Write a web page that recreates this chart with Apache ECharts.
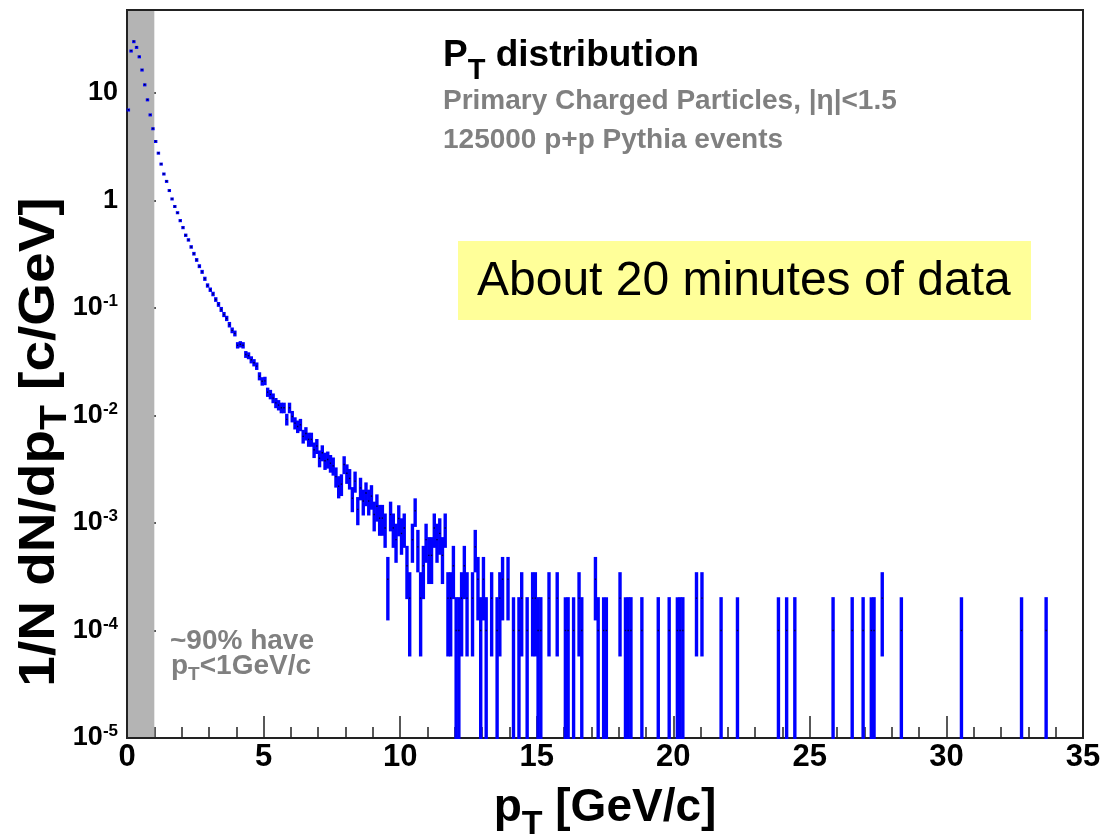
<!DOCTYPE html>
<html>
<head>
<meta charset="utf-8">
<script src="https://cdn.jsdelivr.net/npm/echarts@6/dist/echarts.min.js"></script>
<style>
html,body{margin:0;padding:0;background:#fff;}
#chart{width:1104px;height:839px;}
</style>
</head>
<body>
<div id="chart"></div>
<script>
// ---- data ----
// bin centres (GeV/c) of non-empty bins
const ptBins = [
 0.05,0.15,0.25,0.35,0.45,0.55,0.65,0.75,0.85,0.95,
 1.05,1.15,1.25,1.35,1.45,1.55,1.65,1.75,1.85,1.95,
 2.05,2.15,2.25,2.35,2.45,2.55,2.65,2.75,2.85,2.95,
 3.05,3.15,3.25,3.35,3.45,3.55,3.65,3.75,3.85,3.95,
 4.05,4.15,4.25,4.35,4.45,4.55,4.65,4.75,4.85,4.95,
 5.05,5.15,5.25,5.35,5.45,5.55,5.65,5.75,5.85,5.95,
 6.05,6.15,6.25,6.35,6.45,6.55,6.65,6.75,6.85,6.95,
 7.05,7.15,7.25,7.35,7.45,7.55,7.65,7.75,7.85,7.95,
 8.05,8.15,8.25,8.35,8.45,8.55,8.65,8.75,8.85,8.95,
 9.05,9.15,9.25,9.35,9.45,9.55,9.65,9.75,9.85,9.95,
 10.05,10.15,10.25,10.35,10.45,10.55,10.65,10.75,10.85,10.95,
 11.05,11.15,11.25,11.35,11.45,11.55,11.65,11.75,11.85,11.95,
 12.05,12.15,12.25,12.35,12.45,12.65,12.75,12.85,12.95,
 13.05,13.15,13.35,13.55,13.65,13.75,13.95,
 14.15,14.35,14.45,14.65,14.85,14.95,
 15.05,15.15,15.45,15.75,
 16.05,16.15,16.35,16.55,16.65,
 17.15,17.25,17.45,17.55,
 18.05,18.25,18.35,18.45,18.85,
 19.45,19.85,
 20.15,20.25,20.35,20.85,
 21.05,21.75,22.35,23.85,24.15,24.45,25.85,26.55,26.95,
 27.25,27.35,27.65,28.35,30.55,32.75,33.65
];
// 1/N dN/dpT  [c/GeV]
const dNdpT = [
 7.0,24.8,30.3,26.8,21.9,16.5,12.0,8.7,6.3,4.68,
 3.56,2.77,2.19,1.77,1.51,1.24,1.035,0.88,0.77,0.65,
 0.56,0.475,0.43,0.37,0.32,0.28,0.245,0.217,0.187,0.162,
 0.148,0.135,0.12,0.108,0.097,0.087,0.080,0.070,0.062,0.058,
 0.045,0.046,0.045,0.037,0.036,0.033,0.031,0.0288,0.0232,0.0208,
 0.021,0.0165,0.0157,0.0145,0.0131,0.0125,0.0118,0.0118,0.0092,0.0118,
 0.0098,0.0085,0.0079,0.0082,0.0064,0.0068,0.0060,0.0060,0.0048,0.0052,
 0.0040,0.0045,0.0038,0.0039,0.0036,0.0034,0.0027,0.0022,0.0023,0.0035,
 0.0029,0.0026,0.0017,0.00245,0.00134,0.00212,0.0016,0.0019,0.0016,0.00178,
 0.0012,0.00143,0.00111,0.00111,0.0009,0.0003,0.0012,0.0009,0.0007,0.0011,
 0.0008,0.0009,0.0004,0.0002,0.0007,0.0013,0.0006,0.0002,0.0004,0.0007,
 0.0005,0.0005,0.0009,0.0007,0.0008,0.0005,0.0009,0.0002,0.0002,0.0004,
 0.0001,0.0001,0.0002,0.0004,0.0002,0.0002,0.0006,0.0003,0.0001,
 0.0003,0.0001,0.0002,0.0001,0.0002,0.0003,0.0003,
 0.0001,0.0001,0.0002,0.0001,0.0002,0.0002,
 0.0001,0.0001,0.0002,0.0002,
 0.0001,0.0001,0.0001,0.0002,0.0001,
 0.0003,0.0001,0.0001,0.0001,
 0.0002,0.0001,0.0001,0.0001,0.0001,
 0.0001,0.0001,
 0.0001,0.0001,0.0001,0.0002,
 0.0002,0.0001,0.0001,0.0001,0.0001,0.0001,0.0001,0.0001,0.0001,
 0.0001,0.0001,0.0002,0.0001,0.0001,0.0001,0.0001
];
const perEntry = 1e-4;          // value of a single entry in a bin
const xTicks = [0, 5, 10, 15, 20, 25, 30, 35];
const yMin = 1e-5, yMax = 59.2;
const lowPtBand = [0, 1];       // shaded pT < 1 GeV/c region
const titleText = 'distribution';
const subtitle1 = 'Primary Charged Particles, |\u03b7|<1.5';
const subtitle2 = '125000 p+p Pythia events';
const boxText = 'About 20 minutes of data';

const FF = '"Liberation Sans", Arial, Helvetica, sans-serif';
const chart = echarts.init(document.getElementById('chart'), null, {renderer: 'canvas'});

// rich-text styles for a main run + lowered subscript run
function subRich(fm, fs, drop, color, key) {
  const L = 2 * (drop + 0.1535 * fs + 0.3465 * fm);
  const m = {fontFamily: FF, fontWeight: 'bold', fontSize: fm, lineHeight: L};
  const s = {fontFamily: FF, fontWeight: 'bold', fontSize: fs, lineHeight: fs, verticalAlign: 'bottom'};
  m[key] = color; s[key] = color;
  return {m: m, s: s};
}

function yLabel(v) {
  const e = Math.log10(v);
  const r = Math.round(e);
  if (Math.abs(e - r) > 1e-6) return '';
  if (r === 0) return '{b|1}';
  if (r === 1) return '{b|10}';
  return '{b|10}{sup|' + r + '}';
}

function histItem(params, api) {
  const x = api.value(0), v = api.value(1);
  const n = v / perEntry;
  const e = Math.sqrt(n) * perEntry;
  const hi = v + e;
  const lo = Math.max(v - e, yMin);
  const pc = api.coord([x, v]);
  const ph = api.coord([x, hi]);
  const pl = api.coord([x, lo]);
  const w = 3.4;
  const top = ph[1] - 1;
  const h = Math.max(pl[1] - ph[1] + 2, 3);
  return {
    type: 'group',
    children: [
      {type: 'rect', shape: {x: pc[0] - w / 2, y: top, width: w, height: h}, style: {fill: '#0000ff'}},
      {type: 'rect', shape: {x: pc[0] - 0.7, y: pc[1] - 0.7, width: 1.4, height: 1.4}, style: {fill: '#000033'}}
    ]
  };
}

function bandItem(params, api) {
  const a = api.coord([lowPtBand[0], yMax]);
  const b = api.coord([lowPtBand[1], yMin]);
  return {type: 'rect', shape: {x: a[0] + 1, y: a[1] + 1, width: b[0] - a[0] - 1, height: b[1] - a[1] - 2}, style: {fill: '#b4b4b4'}};
}

const axisColor = '#222';
const option = {
  animation: false,
  backgroundColor: '#fff',
  grid: {left: 127, top: 10, width: 956, height: 728, show: true, borderColor: axisColor, borderWidth: 2,
         backgroundColor: 'transparent', containLabel: false, outerBoundsMode: 'none'},
  xAxis: {
    type: 'value', min: xTicks[0], max: xTicks[xTicks.length - 1], interval: 5,
    axisLine: {lineStyle: {color: axisColor, width: 2}},
    axisTick: {inside: true, length: 22, lineStyle: {color: axisColor, width: 1.5}},
    minorTick: {show: true, splitNumber: 5, length: 11, lineStyle: {color: axisColor, width: 1.5}},
    splitLine: {show: false},
    axisLabel: {fontFamily: FF, fontWeight: 'bold', fontSize: 31, color: '#000', margin: 4},
    name: '{m|p}{s|T}{m| [GeV/c]}',
    nameLocation: 'middle', nameGap: 37,
    nameTextStyle: {rich: subRich(46, 34, 12, '#000', 'color')}
  },
  yAxis: {
    type: 'log', logBase: 10, min: yMin, max: yMax,
    axisLine: {lineStyle: {color: axisColor, width: 2}},
    axisTick: {inside: true, length: 29, lineStyle: {color: axisColor, width: 1.5}},
    splitLine: {show: false},
    axisLabel: {
      formatter: yLabel, margin: 9,
      rich: {
        b: {fontFamily: FF, fontWeight: 'bold', fontSize: 27, lineHeight: 30, color: '#000'},
        sup: {fontFamily: FF, fontWeight: 'bold', fontSize: 17, lineHeight: 10, verticalAlign: 'top', color: '#000'}
      }
    }
  },
  series: [
    {type: 'custom', z: 1, silent: true, data: [[lowPtBand[1], 1]], renderItem: bandItem},
    {type: 'custom', z: 3, silent: true, data: ptBins.map((p, i) => [p, dNdpT[i]]), renderItem: histItem}
  ],
  graphic: [
    {type: 'text', x: 40, y: 442, rotation: Math.PI / 2, scaleX: 1.1, style: {
      text: '{m|1/N dN/dp}{s|T}{m| [c/GeV]}', align: 'center', verticalAlign: 'middle',
      rich: subRich(50, 37, 11, '#000', 'fill')}},
    {type: 'text', x: 443, y: 56, style: {
      text: '{m|P}{s|T}{m| ' + titleText + '}', align: 'left', verticalAlign: 'middle',
      rich: subRich(37, 29, 12, '#000', 'fill')}},
    {type: 'text', x: 443, y: 101, style: {text: subtitle1, fontFamily: FF, fontWeight: 'bold', fontSize: 28, fill: '#808080', align: 'left', verticalAlign: 'middle'}},
    {type: 'text', x: 443, y: 140, style: {text: subtitle2, fontFamily: FF, fontWeight: 'bold', fontSize: 28, fill: '#808080', align: 'left', verticalAlign: 'middle'}},
    {type: 'rect', shape: {x: 458, y: 241, width: 573, height: 79}, style: {fill: '#ffff99'}},
    {type: 'text', x: 477, y: 282, style: {text: boxText, fontFamily: FF, fontSize: 48, fill: '#000', align: 'left', verticalAlign: 'middle'}},
    {type: 'text', x: 170, y: 641, style: {text: '~90% have', fontFamily: FF, fontWeight: 'bold', fontSize: 28, fill: '#808080', align: 'left', verticalAlign: 'middle'}},
    {type: 'text', x: 171, y: 666, style: {
      text: '{m|p}{s|T}{m|<1GeV/c}', align: 'left', verticalAlign: 'middle',
      rich: subRich(28, 19, 6, '#808080', 'fill')}}
  ]
};
chart.setOption(option);
</script>
</body>
</html>
